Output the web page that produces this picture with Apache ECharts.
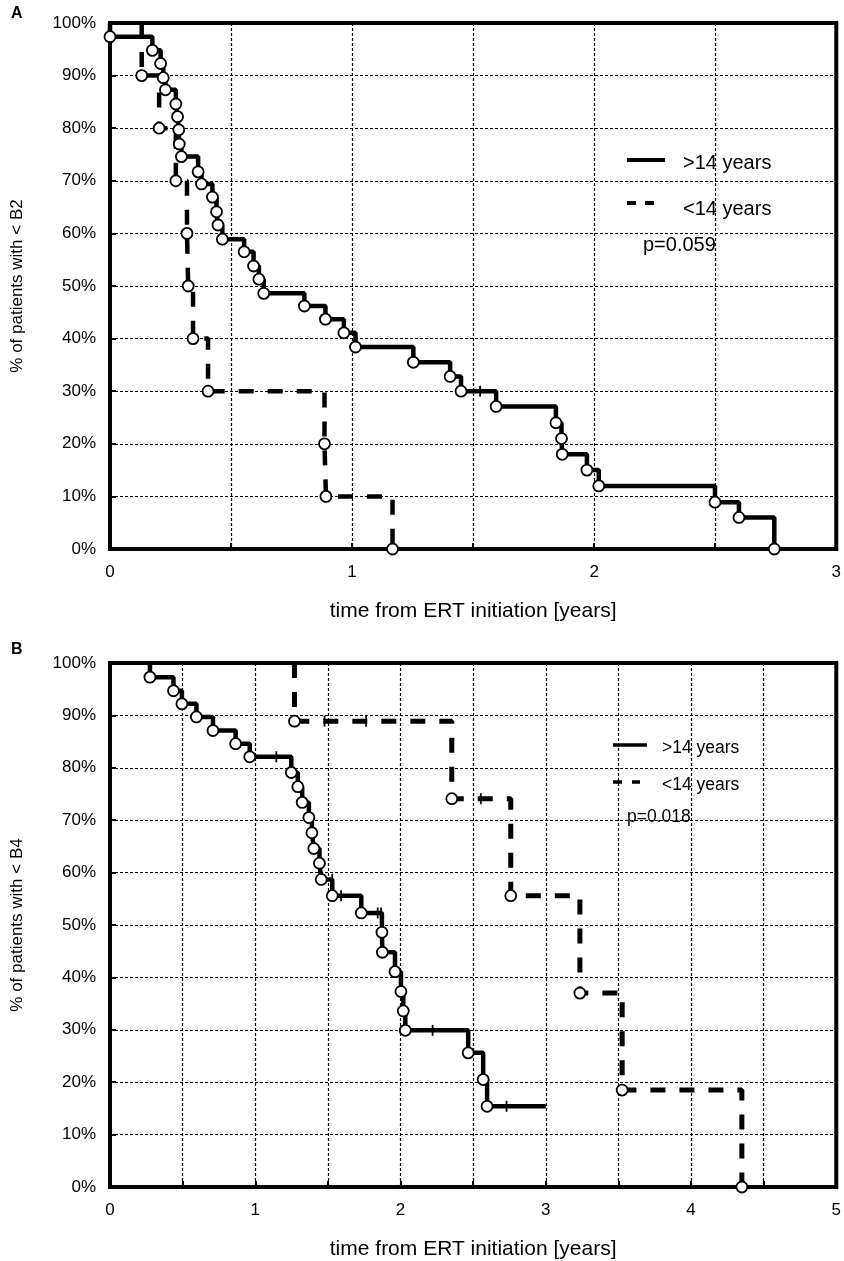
<!DOCTYPE html>
<html>
<head>
<meta charset="utf-8">
<script src="https://cdn.jsdelivr.net/npm/echarts@6/dist/echarts.min.js"></script>
<style>
html,body{margin:0;padding:0;background:#fff;}
#chart{width:844px;height:1261px;}
</style>
</head>
<body>
<div id="chart"></div>
<script>
// ---------- Panel A (time to B2) ----------
const aOldTime = [0, 0.175, 0.209, 0.220, 0.229, 0.272, 0.279, 0.284, 0.286, 0.295, 0.364, 0.378, 0.423, 0.440, 0.446, 0.464, 0.554, 0.593, 0.615, 0.635, 0.803, 0.890, 0.966, 1.014, 1.253, 1.405, 1.450, 1.595, 1.842, 1.865, 1.868, 1.970, 2.019, 2.499, 2.598, 2.744];
const aOldSurv = [97.4, 94.8, 92.3, 89.6, 87.3, 84.6, 82.2, 79.7, 77.0, 74.6, 71.7, 69.4, 66.9, 64.1, 61.6, 58.9, 56.5, 53.8, 51.3, 48.6, 46.2, 43.7, 41.1, 38.4, 35.5, 32.8, 30.0, 27.1, 24.0, 21.0, 18.0, 15.0, 12.0, 8.9, 6.0, 0];
const aOldCensTime = [1.529];
const aOldCensSurv = [30.0];
const aYoungTime = [0.131, 0.203, 0.272, 0.318, 0.323, 0.343, 0.405, 0.886, 0.892, 1.167];
const aYoungSurv = [90, 80, 70, 60, 50, 40, 30, 20, 10, 0];

// ---------- Panel B (time to B4) ----------
const bOldTime = [0.275, 0.437, 0.495, 0.595, 0.709, 0.865, 0.962, 1.248, 1.293, 1.323, 1.369, 1.390, 1.403, 1.442, 1.454, 1.530, 1.730, 1.872, 1.875, 1.962, 2.003, 2.019, 2.033, 2.466, 2.569, 2.596];
const bOldSurv = [97.3, 94.7, 92.2, 89.7, 87.1, 84.6, 82.1, 79.1, 76.4, 73.4, 70.5, 67.6, 64.6, 61.8, 58.7, 55.6, 52.3, 48.6, 44.8, 41.1, 37.3, 33.6, 29.9, 25.6, 20.5, 15.4];
const bOldEnd = [3.0, 15.4];
const bOldCensTime = [1.145, 1.530, 1.591, 1.843, 1.866, 2.221, 2.730];
const bOldCensSurv = [82.1, 58.7, 55.6, 52.3, 52.3, 29.9, 15.4];
const bYoungTime = [1.270, 2.353, 2.759, 3.235, 3.526, 4.350];
const bYoungSurv = [88.9, 74.1, 55.6, 37.0, 18.5, 0];
const bYoungCensTime = [1.477, 1.763, 2.553];
const bYoungCensSurv = [88.9, 88.9, 74.1];

const yTicks = [0,10,20,30,40,50,60,70,80,90,100];

// step curve starting at 100% at the first event time (the 100% stretch lies on the frame)
function curve(times, surv, end) {
  const d = [[times[0], 100]];
  times.forEach((t, i) => d.push([t, surv[i]]));
  if (end) d.push(end);
  return d;
}
function pts(times, surv) { return times.map((t, i) => [t, surv[i]]); }

const FONT = 'Liberation Sans, Arial, sans-serif';

function stepSeries(idx, data, dashed, width) {
  return {
    type: 'line', xAxisIndex: idx, yAxisIndex: idx, data: data, step: 'end',
    showSymbol: false, symbol: 'none', z: 3, clip: false,
    lineStyle: { color: '#000', width: width, type: dashed ? [15, 14] : 'solid', cap: 'butt', opacity: 1 }
  };
}
function circleSeries(idx, data, size) {
  return {
    type: 'scatter', xAxisIndex: idx, yAxisIndex: idx, data: data, symbol: 'circle',
    symbolSize: size, z: 5, clip: false,
    itemStyle: { color: '#ffffff', borderColor: '#000', borderWidth: 1.8, opacity: 1 }
  };
}
function censorSeries(idx, data) {
  return {
    type: 'scatter', xAxisIndex: idx, yAxisIndex: idx, data: data, symbol: 'rect',
    symbolSize: [1.8, 11], z: 4, clip: false, itemStyle: { color: '#000', opacity: 1 }
  };
}

function xAxisCfg(idx, max) {
  return {
    type: 'value', gridIndex: idx, min: 0, max: max, interval: 0.5,
    name: 'time from ERT initiation [years]', nameLocation: 'middle', nameGap: 52,
    nameTextStyle: { fontFamily: FONT, fontSize: 21, color: '#000' },
    axisLine: { show: true, lineStyle: { color: '#000', width: 4 } },
    axisTick: { show: true, inside: true, length: 6, lineStyle: { color: '#000', width: 2 } },
    axisLabel: { fontFamily: FONT, fontSize: 17, color: '#000', margin: 15,
      formatter: v => (Math.abs(v - Math.round(v)) < 1e-9 ? String(Math.round(v)) : '') },
    splitLine: { show: true, lineStyle: { color: '#000', width: 1.2, type: [3, 2] } }
  };
}
function yAxisCfg(idx, name) {
  return {
    type: 'value', gridIndex: idx, min: 0, max: 100, interval: 10,
    name: name, nameLocation: 'middle', nameGap: 84, nameRotate: 90,
    nameTextStyle: { fontFamily: FONT, fontSize: 17, color: '#000' },
    axisLine: { show: true, lineStyle: { color: '#000', width: 4 } },
    axisTick: { show: true, inside: true, length: 6, lineStyle: { color: '#000', width: 2 } },
    axisLabel: { fontFamily: FONT, fontSize: 17, color: '#000', margin: 14,
      formatter: v => (yTicks.indexOf(v) >= 0 ? v + '%' : '') },
    splitLine: { show: true, lineStyle: { color: '#000', width: 1.2, type: [3, 2] } }
  };
}

const chart = echarts.init(document.getElementById('chart'), null, { renderer: 'canvas' });
const option = {
  backgroundColor: '#fff',
  animation: false,
  grid: [
    { left: 110, right: 6, top: 23, height: 526, show: true, borderColor: '#000', borderWidth: 4, backgroundColor: 'transparent' },
    { left: 110, right: 6, top: 663, height: 526, show: true, borderColor: '#000', borderWidth: 4, backgroundColor: 'transparent' }
  ],
  xAxis: [xAxisCfg(0, 3), xAxisCfg(1, 5)],
  yAxis: [yAxisCfg(0, '% of patients with < B2'), yAxisCfg(1, '% of patients with < B4')],
  series: [
    stepSeries(0, curve(aOldTime, aOldSurv), false, 4.5),
    stepSeries(0, curve(aYoungTime, aYoungSurv), true, 4.5),
    censorSeries(0, pts(aOldCensTime, aOldCensSurv)),
    circleSeries(0, pts(aOldTime, aOldSurv), 11),
    circleSeries(0, pts(aYoungTime, aYoungSurv), 11),
    stepSeries(1, curve(bOldTime, bOldSurv, bOldEnd), false, 4.5),
    stepSeries(1, curve(bYoungTime, bYoungSurv), true, 5),
    censorSeries(1, pts(bOldCensTime, bOldCensSurv)),
    censorSeries(1, pts(bYoungCensTime, bYoungCensSurv)),
    circleSeries(1, pts(bOldTime, bOldSurv), 11),
    circleSeries(1, pts(bYoungTime, bYoungSurv), 11)
  ],
  graphic: [
    { type: 'text', left: 11, top: 6, z: 10, style: { text: 'A', font: 'bold 16px ' + FONT, fill: '#000' } },
    { type: 'text', left: 11, top: 642, z: 10, style: { text: 'B', font: 'bold 16px ' + FONT, fill: '#000' } },
    // legend A
    { type: 'line', z: 10, shape: { x1: 627, y1: 160, x2: 665, y2: 160 }, style: { stroke: '#000', lineWidth: 4 } },
    { type: 'line', z: 10, shape: { x1: 627, y1: 203, x2: 636, y2: 203 }, style: { stroke: '#000', lineWidth: 4 } },
    { type: 'line', z: 10, shape: { x1: 645, y1: 203, x2: 654, y2: 203 }, style: { stroke: '#000', lineWidth: 4 } },
    { type: 'text', z: 10, x: 683, y: 163, style: { text: '>14 years', font: '20px ' + FONT, fill: '#000', verticalAlign: 'middle' } },
    { type: 'text', z: 10, x: 683, y: 209, style: { text: '<14 years', font: '20px ' + FONT, fill: '#000', verticalAlign: 'middle' } },
    { type: 'text', z: 10, x: 643, y: 245, style: { text: 'p=0.059', font: '20px ' + FONT, fill: '#000', verticalAlign: 'middle' } },
    // legend B
    { type: 'line', z: 10, shape: { x1: 613, y1: 745, x2: 647, y2: 745 }, style: { stroke: '#000', lineWidth: 3.5 } },
    { type: 'line', z: 10, shape: { x1: 613, y1: 782, x2: 622, y2: 782 }, style: { stroke: '#000', lineWidth: 3.5 } },
    { type: 'line', z: 10, shape: { x1: 632, y1: 782, x2: 640, y2: 782 }, style: { stroke: '#000', lineWidth: 3.5 } },
    { type: 'text', z: 10, x: 662, y: 748, style: { text: '>14 years', font: '17.5px ' + FONT, fill: '#000', verticalAlign: 'middle' } },
    { type: 'text', z: 10, x: 662, y: 785, style: { text: '<14 years', font: '17.5px ' + FONT, fill: '#000', verticalAlign: 'middle' } },
    { type: 'text', z: 10, x: 627, y: 817, style: { text: 'p=0.018', font: '17.5px ' + FONT, fill: '#000', verticalAlign: 'middle' } }
  ]
};
chart.setOption(option);
</script>
</body>
</html>
